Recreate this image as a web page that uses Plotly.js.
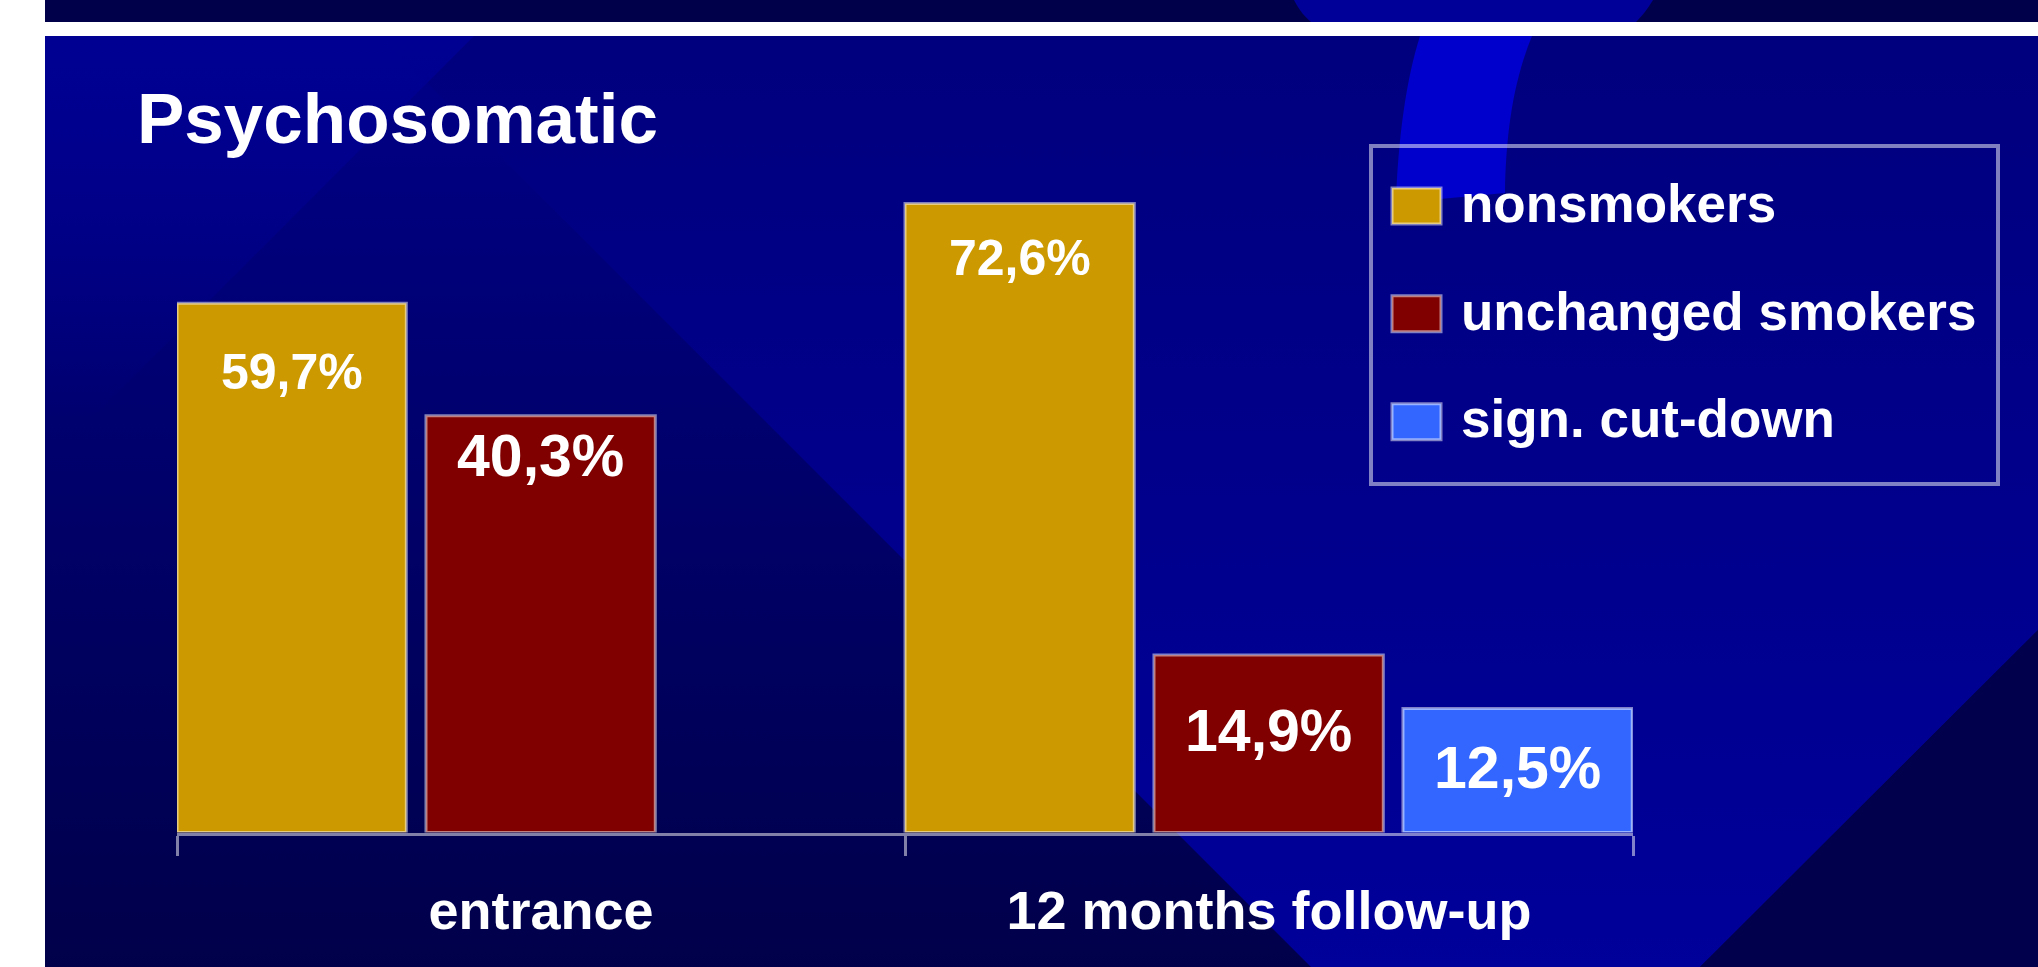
<!DOCTYPE html>
<html>
<head>
<meta charset="utf-8">
<script src="https://cdn.plot.ly/plotly-3.0.1.min.js"></script>
<style>
html,body{margin:0;padding:0;background:#ffffff;width:2038px;height:967px;overflow:hidden}
#bg{position:absolute;left:0;top:0}
#chart{position:absolute;left:0;top:0;width:2038px;height:967px}
</style>
</head>
<body>
<svg id="bg" width="2038" height="967" viewBox="0 0 2038 967">
  <defs>
    <linearGradient id="gL" gradientUnits="userSpaceOnUse" x1="0" y1="36" x2="0" y2="967">
      <stop offset="0" stop-color="#000088"/><stop offset="1" stop-color="#00004a"/>
    </linearGradient>
    <linearGradient id="gR" gradientUnits="userSpaceOnUse" x1="0" y1="36" x2="0" y2="967">
      <stop offset="0" stop-color="#00007e"/><stop offset="1" stop-color="#00009a"/>
    </linearGradient>
    <linearGradient id="gT" gradientUnits="userSpaceOnUse" x1="0" y1="36" x2="0" y2="420">
      <stop offset="0" stop-color="#000092" stop-opacity="1"/><stop offset="1" stop-color="#000092" stop-opacity="0"/>
    </linearGradient>
  </defs>
  <rect x="45" y="0" width="1993" height="22" fill="#00004a"/>
  <path d="M1294,0 L1653,0 C1647,10 1641,17 1636,22 L1311,22 C1305,17 1299,10 1294,0 Z" fill="#000098"/>
  <rect x="45" y="36" width="1993" height="931" fill="url(#gL)"/>
  <polygon points="380,36 2038,36 2038,630 1700,967 1311,967" fill="url(#gR)"/>
  <polygon points="45,36 474,36 45,465" fill="url(#gT)"/>
  <polygon points="2038,630 2038,967 1700,967" fill="#00004c"/>
  <path d="M1420,36 C1406,80 1398,140 1396,203 L1505,193 C1506,130 1514,80 1532,36 Z" fill="#0000cc"/>
</svg>
<div id="chart"></div>
<script>
// ---- data ----
const categories = ['entrance', '12 months follow-up'];
const seriesNames = ['nonsmokers', 'unchanged smokers', 'sign. cut-down'];
// bar heights as drawn (scale on which the 72,6% bar stands at 72.6)
const nonsmokersHeights = [61.1, 72.6];
const unchangedHeights = [48.1, 20.5];
const cutDownCategories = ['12 months follow-up'];
const cutDownHeights = [14.3];
// printed data labels
const nonsmokersLabels = ['59,7%', '72,6%'];
const unchangedLabels = ['40,3%', '14,9%'];
const cutDownLabels = ['12,5%'];

// ---- styling ----
const W = 2038, H = 967;
const FONT = '"Liberation Sans", Arial, Helvetica, sans-serif';
const edge = 'rgba(255,255,255,0.5)';
const barWidth = 0.315;
const styles = [
  {color: '#cc9900', offset: -0.5,   labelSize: 50, labelWeight: 'bold', drops: [49, 35]},
  {color: '#800000', offset: -0.158, labelSize: 59, labelWeight: 'bold', drops: [17, 53]},
  {color: '#3366ff', offset: 0.184,  labelSize: 59, labelWeight: 'bold', drops: [37]}
];
const seriesX = [categories, categories, cutDownCategories];
const seriesY = [nonsmokersHeights, unchangedHeights, cutDownHeights];
const seriesLabels = [nonsmokersLabels, unchangedLabels, cutDownLabels];

const traces = seriesNames.map((name, i) => ({
  type: 'bar',
  name: name,
  x: seriesX[i],
  y: seriesY[i],
  offset: styles[i].offset,
  width: barWidth,
  legendgroup: 'g' + i,
  marker: {color: styles[i].color, line: {color: edge, width: 3}},
  hoverinfo: 'skip'
}));

const annotations = [];
seriesNames.forEach((name, i) => {
  seriesX[i].forEach((cat, j) => {
    const s = styles[i];
    annotations.push({
      xref: 'x', yref: 'y',
      x: categories.indexOf(cat) + s.offset + barWidth / 2,
      y: seriesY[i][j],
      text: seriesLabels[i][j],
      showarrow: false,
      xanchor: 'center', yanchor: 'top',
      yshift: -(s.drops[j] - 1 - 0.189 * s.labelSize),
      font: {family: FONT, size: s.labelSize, weight: s.labelWeight, color: '#ffffff'}
    });
  });
});

const layout = {
  width: W, height: H,
  margin: {l: 0, r: 0, t: 0, b: 0},
  paper_bgcolor: 'rgba(0,0,0,0)',
  plot_bgcolor: 'rgba(0,0,0,0)',
  font: {family: FONT, color: '#ffffff'},
  title: {
    text: 'Psychosomatic',
    font: {family: FONT, size: 71, weight: 'bold', color: '#ffffff'},
    x: 137 / W, xanchor: 'left', xref: 'paper',
    y: 1 - 93 / H, yanchor: 'top'
  },
  barmode: 'group', bargap: 0, bargroupgap: 0,
  xaxis: {
    domain: [177 / W, 1633 / W],
    type: 'category',
    categoryorder: 'array', categoryarray: categories,
    range: [-0.5, 1.5],
    showline: true, linecolor: edge, linewidth: 3,
    ticks: 'outside', tickson: 'boundaries', ticklen: 20, tickwidth: 3, tickcolor: edge,
    tickfont: {family: FONT, size: 54, weight: 'bold', color: '#ffffff'},
    ticklabelstandoff: 29,
    showgrid: false, zeroline: false, fixedrange: true
  },
  yaxis: {
    domain: [1 - 832.5 / H, 1 - 139.4 / H],
    range: [0, 80],
    visible: false, showgrid: false, zeroline: false, fixedrange: true
  },
  showlegend: true,
  legend: {
    x: 1376 / W, xanchor: 'left',
    y: 1 - 160 / H, yanchor: 'top',
    bgcolor: 'rgba(0,0,0,0)', borderwidth: 0,
    font: {family: FONT, size: 53, weight: 'bold', color: '#ffffff'},
    itemwidth: 75,
    traceorder: 'grouped', tracegroupgap: 36
  },
  shapes: [{
    type: 'rect', xref: 'paper', yref: 'paper',
    x0: 1371 / W, x1: 1998 / W, y0: 1 - 484 / H, y1: 1 - 146 / H,
    line: {color: edge, width: 4}, fillcolor: 'rgba(0,0,0,0)', layer: 'above'
  }],
  annotations: annotations
};

Plotly.newPlot('chart', traces, layout, {staticPlot: true, displayModeBar: false}).then(gd => {
  gd.querySelectorAll('.legend .legendpoints path').forEach(p => {
    p.setAttribute('d', 'M-26.5,-13H22.5V23H-26.5Z');
  });
});
</script>
</body>
</html>
